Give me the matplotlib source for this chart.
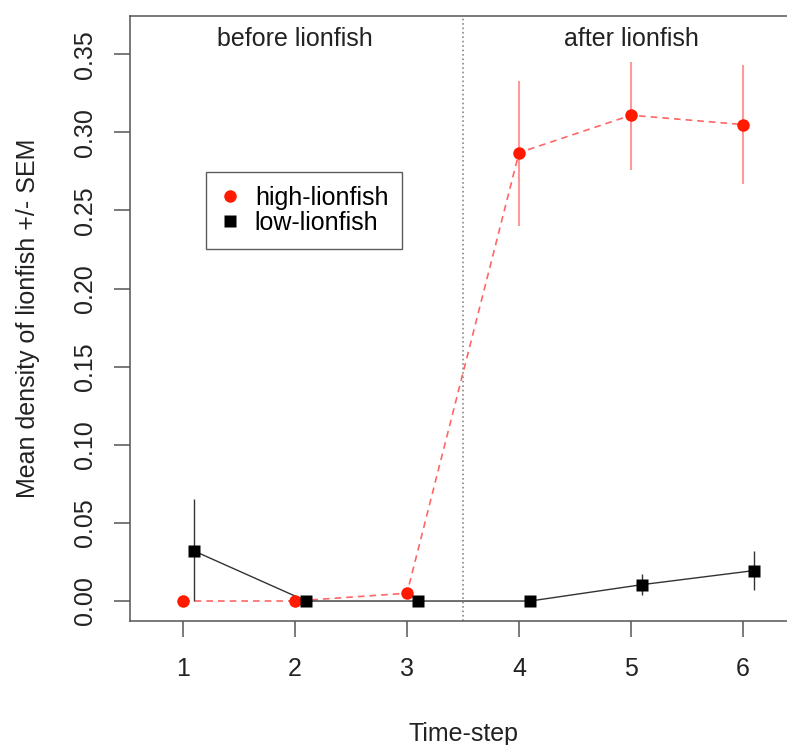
import matplotlib
matplotlib.use("Agg")
import matplotlib.pyplot as plt

plt.rcParams['font.family'] = ['Liberation Sans', 'DejaVu Sans']

# data
time_high = [1, 2, 3, 4, 5, 6]
mean_high = [0.0, 0.0, 0.005, 0.287, 0.311, 0.305]
lo_high = [0.0, 0.0, 0.005, 0.240, 0.276, 0.267]
hi_high = [0.0, 0.0, 0.005, 0.333, 0.345, 0.343]

time_low = [1.1, 2.1, 3.1, 4.1, 5.1, 6.1]
mean_low = [0.032, 0.0, 0.0, 0.0, 0.0105, 0.0195]
lo_low = [0.0, 0.0, 0.0, 0.0, 0.004, 0.007]
hi_low = [0.065, 0.0, 0.0, 0.0, 0.017, 0.032]

y_ticks = [0.00, 0.05, 0.10, 0.15, 0.20, 0.25, 0.30, 0.35]
x_ticks = [1, 2, 3, 4, 5, 6]
period_split = 3.5

fig = plt.figure(figsize=(7.87, 7.45), dpi=100)
ax = fig.add_axes([0.1652, 0.166, 0.907, 0.8125])

# error bars
ax.vlines(time_high, lo_high, hi_high, color=(1, 0, 0, 0.4), lw=1.5)
ax.vlines(time_low, lo_low, hi_low, color='#333333', lw=1.0)

# series
ax.plot(time_high, mean_high, color=(1, 0, 0, 0.6), ls=(0, (4, 3)), lw=1.2)
ax.plot(time_low, mean_low, color='#333333', lw=1.0)
ax.plot(time_high, mean_high, 'o', color='#ff1a00', ms=9, mec='none',
        label='high-lionfish')
ax.plot(time_low, mean_low, 's', color='black', ms=8.5, mec='none',
        label='low-lionfish')

ax.axvline(period_split, color='#888888', ls=':', lw=1.2)
ax.text(2, 0.36, 'before lionfish', ha='center', va='center', fontsize=18,
        color='#222222')
ax.text(5, 0.36, 'after lionfish', ha='center', va='center', fontsize=18,
        color='#222222')

ax.set_xlim(0.527, 6.9)
ax.set_ylim(-0.013, 0.3745)
ax.set_xticks(x_ticks)
ax.set_yticks(y_ticks)
ax.set_yticklabels([f'{v:.2f}' for v in y_ticks], rotation=90, va='center')

for s in ax.spines.values():
    s.set_color('#555555')
    s.set_linewidth(1.1)
ax.tick_params(direction='out', length=11.5, width=1.1, color='#555555',
               labelsize=18, labelcolor='#222222')
ax.tick_params(axis='x', pad=14)
ax.tick_params(axis='y', pad=12)

ax.set_xlabel('Time-step', fontsize=18, color='#222222')
ax.set_ylabel('Mean density of lionfish +/- SEM', fontsize=18, color='#222222')
ax.xaxis.set_label_coords((463 - 130) / 713.8, -0.166)
ax.yaxis.set_label_coords(-0.126, 0.5)

leg = ax.legend(loc='upper left', bbox_to_anchor=(0.1065, 0.742),
                fontsize=18, frameon=True, fancybox=False, borderaxespad=0,
                handlelength=0.8, handletextpad=0.6, labelspacing=0.05,
                borderpad=0.55, edgecolor='#333333')
leg.get_frame().set_linewidth(1.0)

fig.savefig('out.png', dpi=100)
